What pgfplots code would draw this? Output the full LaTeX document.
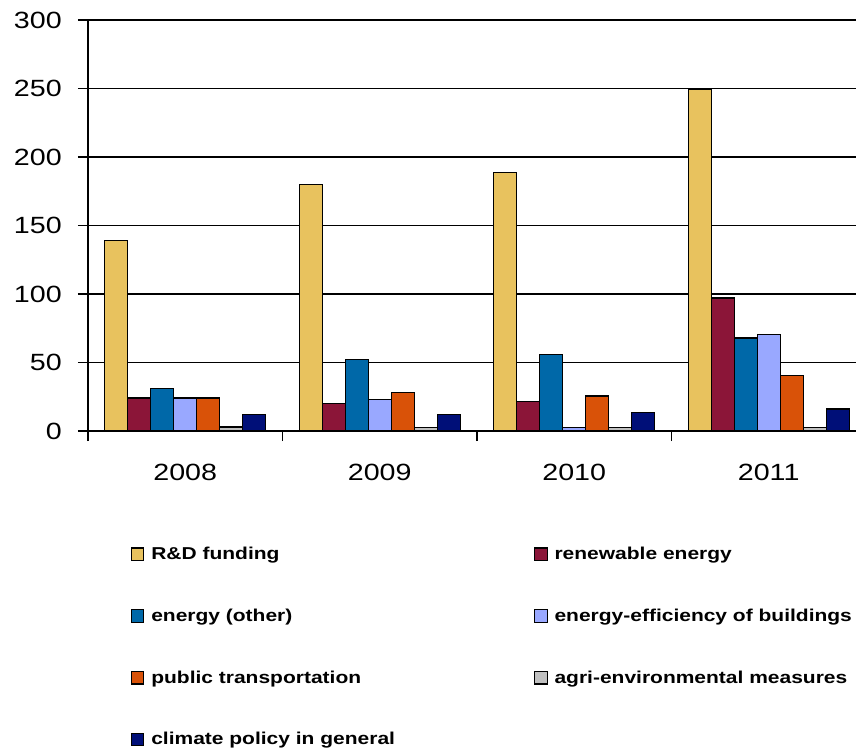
\documentclass[border=0pt]{standalone}
\usepackage{pgfplots}
\pgfplotsset{compat=1.18}
\usepackage{fontspec}
\setmainfont{Liberation Sans}[FakeStretch=1.22]
\definecolor{cYel}{HTML}{E8C25E}
\definecolor{cRed}{HTML}{8B1538}
\definecolor{cBlu}{HTML}{0068A8}
\definecolor{cLbl}{HTML}{99A8FF}
\definecolor{cOra}{HTML}{D95208}
\definecolor{cGry}{HTML}{C0C0C0}
\definecolor{cNav}{HTML}{000F78}
\newcommand{\LE}[1]{\makebox[287pt][l]{#1}}
\pgfplotsset{
  mylegend/.style={legend image code/.code={%
    \draw[##1,draw=black,line width=0.9pt] (0pt,-4.7pt) rectangle (9.4pt,4.7pt);
    \path[draw=none] (0pt,0pt) (15pt,0pt);}},
}
\begin{document}
\begin{tikzpicture}
\useasboundingbox (0,0) rectangle (642pt,565.5pt);
\begin{axis}[
  at={(66pt,242.25pt)}, anchor=south west,
  scale only axis, width=576pt, height=308.25pt,
  ybar=0pt, bar width=17.25pt,
  xmin=-0.5, xmax=3.449,
  ymin=0, ymax=300,
  ytick={0,50,100,150,200,250,300},
  ymajorgrids, grid style={black, line width=0.9pt},
  axis lines*=left,
  axis line style={black, line width=1pt},
  tick align=outside,
  major tick length=7.5pt,
  tick style={black, line width=1pt},
  xtick={-0.5,0.5,1.5,2.5},
  xticklabels={},
  extra x ticks={0,1,2,3},
  extra x tick labels={2008,2009,2010,2011},
  extra x tick style={major tick length=0pt, grid=none},
  xticklabel style={inner sep=0pt, yshift=-25pt},
  yticklabel style={inner sep=0pt, xshift=-12pt},
  tick label style={font=\fontsize{17.6pt}{21pt}\selectfont},
  /pgf/number format/assume math mode=true,
  legend columns=2,
  legend cell align=left,
  legend style={at={(0.0556,-0.2822)}, anchor=north west, draw=none, fill=none,
    inner sep=0pt, outer sep=0pt, column sep=0pt, row sep=35.5pt,
    nodes={inner sep=0pt, font=\bfseries\fontsize{12.9pt}{15pt}\selectfont}},
]
\addplot[fill=cYel, draw=black, line width=1pt, mylegend] coordinates {(0,139) (1,180) (2,188.5) (3,249.5)};
\addlegendentry{\LE{R\&D funding}}
\addplot[fill=cRed, draw=black, line width=1pt, mylegend] coordinates {(0,24) (1,20) (2,21.5) (3,97)};
\addlegendentry{\LE{renewable energy}}
\addplot[fill=cBlu, draw=black, line width=1pt, mylegend] coordinates {(0,31) (1,52) (2,56) (3,68)};
\addlegendentry{\LE{energy (other)}}
\addplot[fill=cLbl, draw=black, line width=1pt, mylegend] coordinates {(0,24) (1,23) (2,2.5) (3,70.5)};
\addlegendentry{\LE{energy-efficiency of buildings}}
\addplot[fill=cOra, draw=black, line width=1pt, mylegend] coordinates {(0,24) (1,28) (2,25.5) (3,40.5)};
\addlegendentry{\LE{public transportation}}
\addplot[fill=cGry, draw=black, line width=1pt, mylegend] coordinates {(0,3) (1,2.5) (2,2.5) (3,2.5)};
\addlegendentry{\LE{agri-environmental measures}}
\addplot[fill=cNav, draw=black, line width=1pt, mylegend] coordinates {(0,12) (1,12) (2,13.5) (3,16)};
\addlegendentry{\LE{climate policy in general}}
\end{axis}
\end{tikzpicture}
\end{document}
